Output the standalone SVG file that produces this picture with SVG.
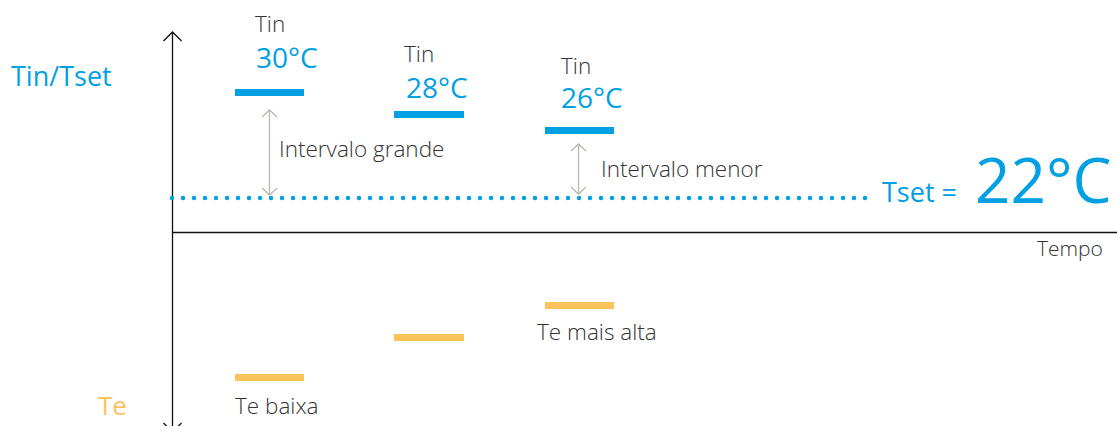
<svg xmlns="http://www.w3.org/2000/svg" width="1117" height="426" viewBox="0 0 1117 426">
<defs>
<style>
text{font-family:"Open Sans","DejaVu Sans",sans-serif;}
.dark{fill:#333333;font-size:22.5px;font-weight:300;}
.blue{fill:#00a0e3;}
.tin{fill:#00a0e3;font-size:28px;}
.barb{fill:#00a0e3;}
.baro{fill:#fec35b;}
.axis{stroke:#111;stroke-width:1.3;fill:none;}
.gap{stroke:#b8b8b1;stroke-width:1.3;fill:none;}
</style>
</defs>
<rect width="1117" height="426" fill="#fff"/>
<g id="axes">
<line class="axis" x1="172.5" y1="32" x2="172.5" y2="432"/>
<polyline class="axis" points="163.5,41 172.5,32 181.5,41"/>
<polyline class="axis" points="163.5,423 172.5,432 181.5,423"/>
<line class="axis" x1="172" y1="232.5" x2="1117" y2="232.5"/>
</g>
<g id="axis-labels">
<text x="11" y="86" class="blue" font-size="27">Tin/Tset</text>
<text x="98" y="415" fill="#fec35b" font-size="26">Te</text>
<text x="1037" y="256" class="dark" style="font-size:21px">Tempo</text>
</g>
<g id="tset-line">
<line x1="172" y1="198" x2="870" y2="198" stroke="#00a0e3" stroke-width="4.5" stroke-linecap="round" stroke-dasharray="0 11"/>
<text x="882" y="202" class="blue" font-size="27">Tset =</text>
<text x="975" y="203" class="blue" font-size="62">22°C</text>
</g>
<g id="tin30">
<text x="255" y="32" class="dark">Tin</text>
<text x="256" y="68" class="tin">30°C</text>
<rect class="barb" x="235" y="89" width="69" height="7"/>
</g>
<g id="tin28">
<text x="404" y="62" class="dark">Tin</text>
<text x="406" y="98" class="tin">28°C</text>
<rect class="barb" x="394" y="111" width="70" height="7"/>
</g>
<g id="tin26">
<text x="561" y="74" class="dark">Tin</text>
<text x="561" y="108" class="tin">26°C</text>
<rect class="barb" x="545" y="127" width="69" height="7"/>
</g>
<g id="te-bars">
<rect class="baro" x="235" y="374" width="69" height="7"/>
<rect class="baro" x="394" y="334" width="70" height="7"/>
<rect class="baro" x="545" y="302" width="69" height="7"/>
<text x="235" y="414" class="dark">Te baixa</text>
<text x="537" y="340" class="dark">Te mais alta</text>
</g>
<g id="connectors">
<line class="gap" x1="269.5" y1="110" x2="269.5" y2="195"/>
<polyline class="gap" points="262,117 269.5,110 277,117"/>
<polyline class="gap" points="262,188 269.5,195 277,188"/>
<line class="gap" x1="578.5" y1="144" x2="578.5" y2="194"/>
<polyline class="gap" points="571,151 578.5,144 586,151"/>
<polyline class="gap" points="571,187 578.5,194 586,187"/>
</g>
<g id="labels">
<text x="279" y="157" class="dark">Intervalo grande</text>
<text x="601" y="177" class="dark">Intervalo menor</text>
</g>
</svg>
